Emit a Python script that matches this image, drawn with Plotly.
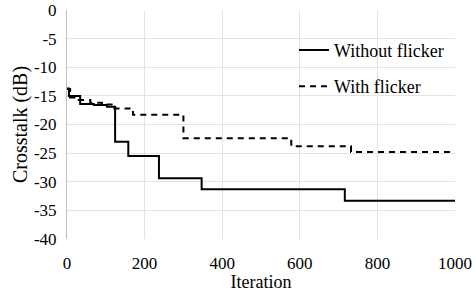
import plotly.graph_objects as go

# Without flicker (solid), step curve
iter_without = [0, 5, 34, 69, 103, 124, 158, 237, 347, 716, 1000]
db_without = [-13.7, -15.0, -16.4, -16.6, -16.9, -23.0, -25.5, -29.4, -31.3, -33.3, -33.3]

# With flicker (dashed), step curve
iter_with = [0, 8, 30, 60, 90, 122, 170, 300, 578, 732, 1000]
db_with = [-13.8, -15.3, -15.7, -16.2, -16.5, -17.2, -18.3, -22.4, -23.8, -24.8, -24.8]

x_ticks = [0, 200, 400, 600, 800, 1000]
y_ticks = [0, -5, -10, -15, -20, -25, -30, -35, -40]
y_ticktext = [str(v) for v in y_ticks]

font = "Times New Roman"


def fnt(size):
    return dict(family=font, size=size, color="black")


fig = go.Figure()
fig.add_trace(go.Scatter(
    x=iter_without, y=db_without, mode="lines", line_shape="hv",
    name="Without flicker", legendgroup="a",
    line=dict(color="black", width=2),
))
fig.add_trace(go.Scatter(
    x=iter_with, y=db_with, mode="lines", line_shape="hv",
    name="With flicker", legendgroup="b",
    line=dict(color="black", width=2, dash="6px,5px"),
))

fig.update_layout(
    width=475, height=292,
    margin=dict(l=67, r=20, t=10, b=53),
    paper_bgcolor="white", plot_bgcolor="white",
    font=fnt(17),
    showlegend=True,
    legend=dict(
        x=0.585, y=0.905, xanchor="left", yanchor="top",
        bgcolor="rgba(0,0,0,0)",
        font=fnt(18),
        traceorder="grouped", tracegroupgap=10,
    ),
    xaxis=dict(
        range=[0, 1000], tickvals=x_ticks,
        tickfont=fnt(17), ticklabelstandoff=12,
        automargin=False,
        showgrid=True, gridcolor="#e3e3e3", gridwidth=1,
        zeroline=False, showline=False,
        ticks="", title=dict(text="Iteration", standoff=2, font=fnt(18)),
    ),
    yaxis=dict(
        range=[-40, 0], tickvals=y_ticks, ticktext=y_ticktext,
        tickfont=fnt(17), ticklabelstandoff=6,
        automargin=False,
        showgrid=True, gridcolor="#e3e3e3", gridwidth=1,
        zeroline=False, showline=True, linecolor="#bfbfbf", linewidth=1,
        ticks="", title=dict(text="Crosstalk (dB)", standoff=0, font=fnt(20)),
    ),
)

fig.write_html("out.html", config={"displayModeBar": False},
               post_script="document.body.style.margin='0';")
